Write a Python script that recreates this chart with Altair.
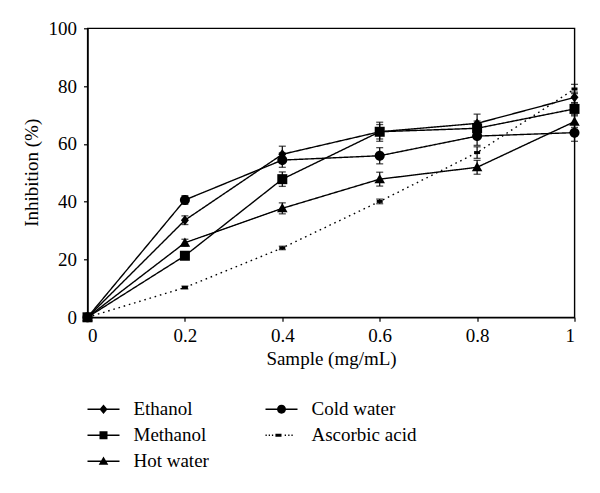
import altair as alt
import pandas as pd

# ---- data ----
conc = [0, 0.2, 0.4, 0.6, 0.8, 1.0]
series_names = ["Ethanol", "Methanol", "Hot water", "Cold water", "Ascorbic acid"]
ethanol = [0, 33.6, 56.4, 64.2, 67.1, 76.1]
ethanol_err = [0, 1.5, 2.8, 2.5, 3.2, 1.8]
methanol = [0, 21.3, 47.8, 64.2, 65.4, 72.1]
methanol_err = [0, 1.0, 2.5, 3.3, 2.5, 2.0]
hot_water = [0, 25.8, 37.7, 47.8, 51.9, 67.7]
hot_water_err = [0, 1.2, 1.9, 2.4, 2.4, 2.0]
cold_water = [0, 40.6, 54.4, 55.9, 62.7, 63.9]
cold_water_err = [0, 1.5, 2.5, 2.8, 3.2, 3.0]
ascorbic = [0, 10.3, 24.0, 40.1, 57.0, 79.0]
ascorbic_err = [0, 0.5, 0.6, 0.8, 2.0, 1.6]

x_ticks = [0, 0.2, 0.4, 0.6, 0.8, 1.0]
y_ticks = [0, 20, 40, 60, 80, 100]

values = [ethanol, methanol, hot_water, cold_water, ascorbic]
errors = [ethanol_err, methanol_err, hot_water_err, cold_water_err, ascorbic_err]

rows = []
for name, vals, errs in zip(series_names, values, errors):
    for x, v, e in zip(conc, vals, errs):
        rows.append({"series": name, "x": x, "y": v, "lo": v - e, "hi": v + e, "err": e})
df = pd.DataFrame(rows)

FONT = "Liberation Serif"
FS = 19

# marker paths (plot) in unit space
marker_paths = [
    "M0,-1L0.8,0L0,1L-0.8,0Z",                         # diamond
    "M-1,-1H1V1H-1Z",                                  # square
    "M0,-1.05L1.05,0.8H-1.05Z",                        # triangle
    "M1,0A1,1,0,1,1,-1,0A1,1,0,1,1,1,0Z",              # circle
    "M-0.6,-0.3H0.6V0.3H-0.6Z",                        # dash
]

line = "M-1,-0.045H1V0.045H-1Z"
legend_paths = [
    line + "M0,-0.3L0.25,0L0,0.3L-0.25,0Z",
    line + "M-0.25,-0.25H0.25V0.25H-0.25Z",
    line + "M0,-0.3L0.3,0.22H-0.3Z",
    line + "M0.28,0A0.28,0.28,0,1,1,-0.28,0A0.28,0.28,0,1,1,0.28,0Z",
    "M-1,-0.05H-0.92V0.05H-1Z"
    "M-0.8,-0.05H-0.72V0.05H-0.8Z"
    "M-0.6,-0.05H-0.52V0.05H-0.6Z"
    "M-0.38,-0.09H0V0.09H-0.38Z"
    "M0.2,-0.05H0.28V0.05H0.2Z"
    "M0.42,-0.05H0.5V0.05H0.42Z"
    "M0.62,-0.05H0.7V0.05H0.62Z",
]

xscale = alt.Scale(domain=[0, 1], nice=False)
yscale = alt.Scale(domain=[0, 100], nice=False)

xenc = alt.X(
    "x:Q",
    scale=xscale,
    axis=alt.Axis(
        values=x_ticks, format="~g", title="Sample (mg/mL)",
        titleY=41, titleBaseline="middle",
    ),
)
yenc = alt.Y(
    "y:Q",
    scale=yscale,
    axis=alt.Axis(
        values=y_ticks, title="Inhibition (%)",
        titleX=-56, titleY=144, titleBaseline="middle", titleAngle=270,
    ),
)

base = alt.Chart(df)

lines = base.mark_line(color="black", strokeWidth=1.4).encode(
    x=xenc,
    y=yenc,
    detail="series:N",
    strokeDash=alt.StrokeDash(
        "series:N",
        scale=alt.Scale(domain=series_names, range=[[1, 0], [1, 0], [1, 0], [1, 0], [1.6, 3.8]]),
        legend=None,
    ),
)

err_df = base.transform_filter("datum.err > 0")
rules = err_df.mark_rule(color="black", strokeWidth=1.2).encode(
    x="x:Q", y="lo:Q", y2="hi:Q"
)
caps_hi = err_df.mark_tick(color="black", orient="horizontal", size=7, thickness=1.3).encode(
    x="x:Q", y="hi:Q"
)
caps_lo = err_df.mark_tick(color="black", orient="horizontal", size=7, thickness=1.3).encode(
    x="x:Q", y="lo:Q"
)

points = base.mark_point(filled=True, color="black", size=100, opacity=1, strokeWidth=0).encode(
    x="x:Q",
    y="y:Q",
    shape=alt.Shape("series:N", scale=alt.Scale(domain=series_names, range=marker_paths), legend=None),
)

legend_order = ["Ethanol", "Cold water", "Methanol", "Ascorbic acid", "Hot water"]
legend_layer = base.mark_point(filled=True, color="black", size=1024, opacity=0).encode(
    x="x:Q",
    y="y:Q",
    shape=alt.Shape(
        "series:N",
        scale=alt.Scale(domain=series_names, range=legend_paths),
        sort=legend_order,
        legend=alt.Legend(
            title=None,
            orient="none",
            legendX=0,
            legendY=365,
            columns=2,
            columnPadding=56,
            rowPadding=0,
            labelOffset=14,
            symbolSize=1024,
            symbolOpacity=1,
            symbolFillColor="black",
            symbolStrokeWidth=0,
            labelFont=FONT,
            labelFontSize=FS,
            labelColor="black",
            padding=0,
        ),
    ),
)

chart = (
    alt.layer(lines, rules, caps_hi, caps_lo, points, legend_layer)
    .resolve_scale(shape="independent")
    .properties(
        width=487,
        height=289,
        autosize=alt.AutoSizeParams(type="none"),
        padding={"left": 79.5, "top": 20.3, "right": 17, "bottom": 167},
    )
    .configure_view(stroke="black", strokeWidth=1.4)
    .configure_axis(
        grid=False,
        domainColor="black",
        domainWidth=1.4,
        tickColor="black",
        tickWidth=1.2,
        tickSize=4,
        labelFont=FONT,
        labelFontSize=FS,
        labelColor="black",
        titleFont=FONT,
        titleFontSize=FS,
        titleColor="black",
        titleFontWeight="normal",
    )
    .configure_axisY(labelPadding=7)
    .configure_axisX(labelPadding=5)
)

chart.save("out.html", embed_options={"renderer": "svg", "actions": False})
